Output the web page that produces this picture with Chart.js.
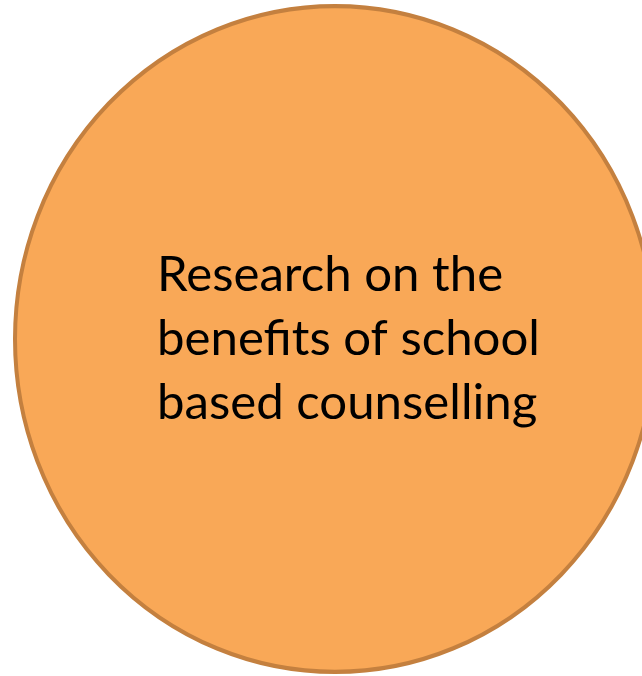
<!DOCTYPE html>
<html>
<head>
<meta charset="utf-8">
<script src="https://cdn.jsdelivr.net/npm/chart.js@4.4.1/dist/chart.umd.min.js"></script>
<style>
    html, body { margin: 0; padding: 0; background: #ffffff; overflow: hidden; }
    #wrap { width: 642px; height: 676px; position: relative; }
</style>
</head>
<body>
<div id="wrap"><canvas id="topicChart" width="642" height="676"></canvas></div>
<script>
// データ
const topicLabels = ['Research on the', 'benefits of school', 'based counselling'];
const bubbleX = [0];
const bubbleY = [0];
const bubbleR = [320];

const fillColor = '#F9A857';
const edgeColor = '#C4803F';

// 縦方向に少しだけ伸ばす（元の図が少し楕円）
const stretchY = 335 / 322;

const ellipsePlugin = {
    id: 'ellipse',
    beforeDatasetsDraw(chart) {
        const ctx = chart.ctx;
        const pt = chart.getDatasetMeta(0).data[0];
        ctx.save();
        ctx.translate(pt.x, pt.y);
        ctx.scale(1, stretchY);
        ctx.translate(-pt.x, -pt.y);
    },
    afterDatasetsDraw(chart) {
        chart.ctx.restore();
    }
};

// 円の中の文字
const labelPlugin = {
    id: 'centerText',
    afterDraw(chart) {
        const ctx = chart.ctx;
        ctx.save();
        let size = 48;
        ctx.font = size + 'px Lato';
        const widest = Math.max(...topicLabels.map(t => ctx.measureText(t).width));
        size = size * 383 / widest;
        ctx.font = size + 'px Lato';
        ctx.fillStyle = '#000000';
        ctx.textAlign = 'left';
        ctx.textBaseline = 'alphabetic';
        topicLabels.forEach((t, i) => {
            ctx.fillText(t, 157, 291 + i * 64);
        });
        ctx.restore();
    }
};

const topicCtx = document.getElementById('topicChart').getContext('2d');
const topicChart = new Chart(topicCtx, {
    type: 'bubble',
    data: {
        datasets: [{
            label: topicLabels.join(' '),
            data: bubbleX.map((x, i) => ({ x: x, y: bubbleY[i], r: bubbleR[i] })),
            backgroundColor: fillColor,
            borderColor: edgeColor,
            borderWidth: 4,
            clip: false
        }]
    },
    options: {
        responsive: false,
        animation: false,
        events: [],
        layout: { autoPadding: false, padding: { left: 28, top: 2, right: 0, bottom: 0 } },
        scales: {
            x: { display: false, min: -1, max: 1 },
            y: { display: false, min: -1, max: 1 }
        },
        plugins: {
            legend: { display: false },
            tooltip: { enabled: false }
        }
    },
    plugins: [ellipsePlugin, labelPlugin]
});
</script>
</body>
</html>
